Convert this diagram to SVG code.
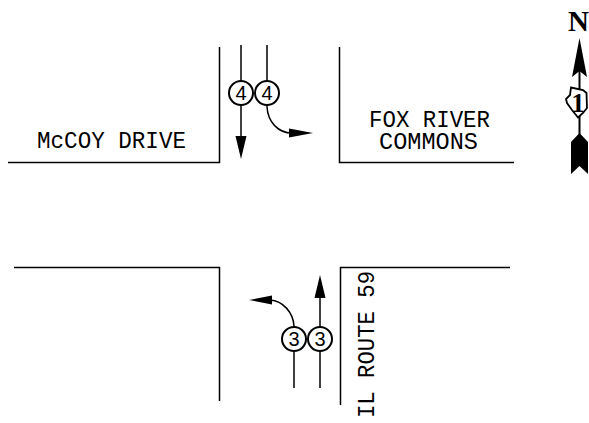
<svg xmlns="http://www.w3.org/2000/svg" width="589" height="423" viewBox="0 0 589 423">
<style>
.l{fill:none;stroke:#000;stroke-width:1.5}
.a{fill:#000;stroke:none}
.c{fill:#fff;stroke:#000;stroke-width:2}
.t{font-family:"Liberation Mono","DejaVu Sans Mono",monospace;font-size:24px;fill:#000}
.n{font-family:"Liberation Sans",Arial,sans-serif;font-size:20px;fill:#000;text-anchor:middle}
</style>
<rect width="589" height="423" fill="#fff"/>
<g id="curbs">
<path class="l" d="M8 162.500H219.500V47"/>
<path class="l" d="M339.500 47V162.500H514"/>
<path class="l" d="M14 267.500H219.500V401"/>
<path class="l" d="M340.500 405V267.500H510"/>
</g>
<g id="connectors">
<path class="l" d="M241 45V136"/>
<path class="a" d="M241 159L235.500 136H246.500Z"/>
<path class="l" d="M267 45V107C268 122 278 133 292 133"/>
<path class="a" d="M313 133L289 128.500V137.500Z"/>
<path class="l" d="M320 388V298"/>
<path class="a" d="M320 275L314.500 298H325.500Z"/>
<path class="l" d="M294 388V326C293 312 283 301 270 300"/>
<path class="a" d="M249 300L272 295.500V304.500Z"/>
</g>
<g id="lane-sb-through"><circle class="c" cx="241" cy="93" r="12"/><text class="n" x="241" y="100">4</text></g>
<g id="lane-sb-left"><circle class="c" cx="267" cy="93" r="12"/><text class="n" x="267" y="100">4</text></g>
<g id="lane-nb-left"><circle class="c" cx="294" cy="339" r="12"/><text class="n" x="294" y="346">3</text></g>
<g id="lane-nb-through"><circle class="c" cx="320" cy="339" r="12"/><text class="n" x="320" y="346">3</text></g>
<g id="label-mccoy"><text class="t" x="37" y="148" textLength="149" lengthAdjust="spacingAndGlyphs">McCOY DRIVE</text></g>
<g id="label-fox"><text class="t" x="369" y="127" textLength="121" lengthAdjust="spacingAndGlyphs">FOX RIVER</text><text class="t" x="379" y="149" textLength="99" lengthAdjust="spacingAndGlyphs">COMMONS</text></g>
<g id="label-route"><text class="t" transform="translate(374 418) rotate(-90)" x="0" y="0" textLength="147" lengthAdjust="spacingAndGlyphs">IL ROUTE 59</text></g>
<g id="north-arrow">
<text x="578.500" y="31" font-family="Liberation Serif,serif" font-weight="bold" font-size="29" text-anchor="middle">N</text>
<path class="l" style="stroke-width:2" d="M579.500 70V136"/>
<path class="a" d="M579.500 38L572 77L579.500 71L587 77Z"/>
<path d="M571 87.500L583 90L586.500 93L587 108L583 113L578 117.500L572 110L567 103L566 99L570 95Z" fill="#fff" stroke="#000" stroke-width="1.8"/>
<text x="578" y="112" font-family="Liberation Serif,serif" font-weight="bold" font-size="27" text-anchor="middle">1</text>
<path class="a" d="M579.500 133L571 142V174L579.500 166L588 174V142Z"/>
</g>
</svg>
